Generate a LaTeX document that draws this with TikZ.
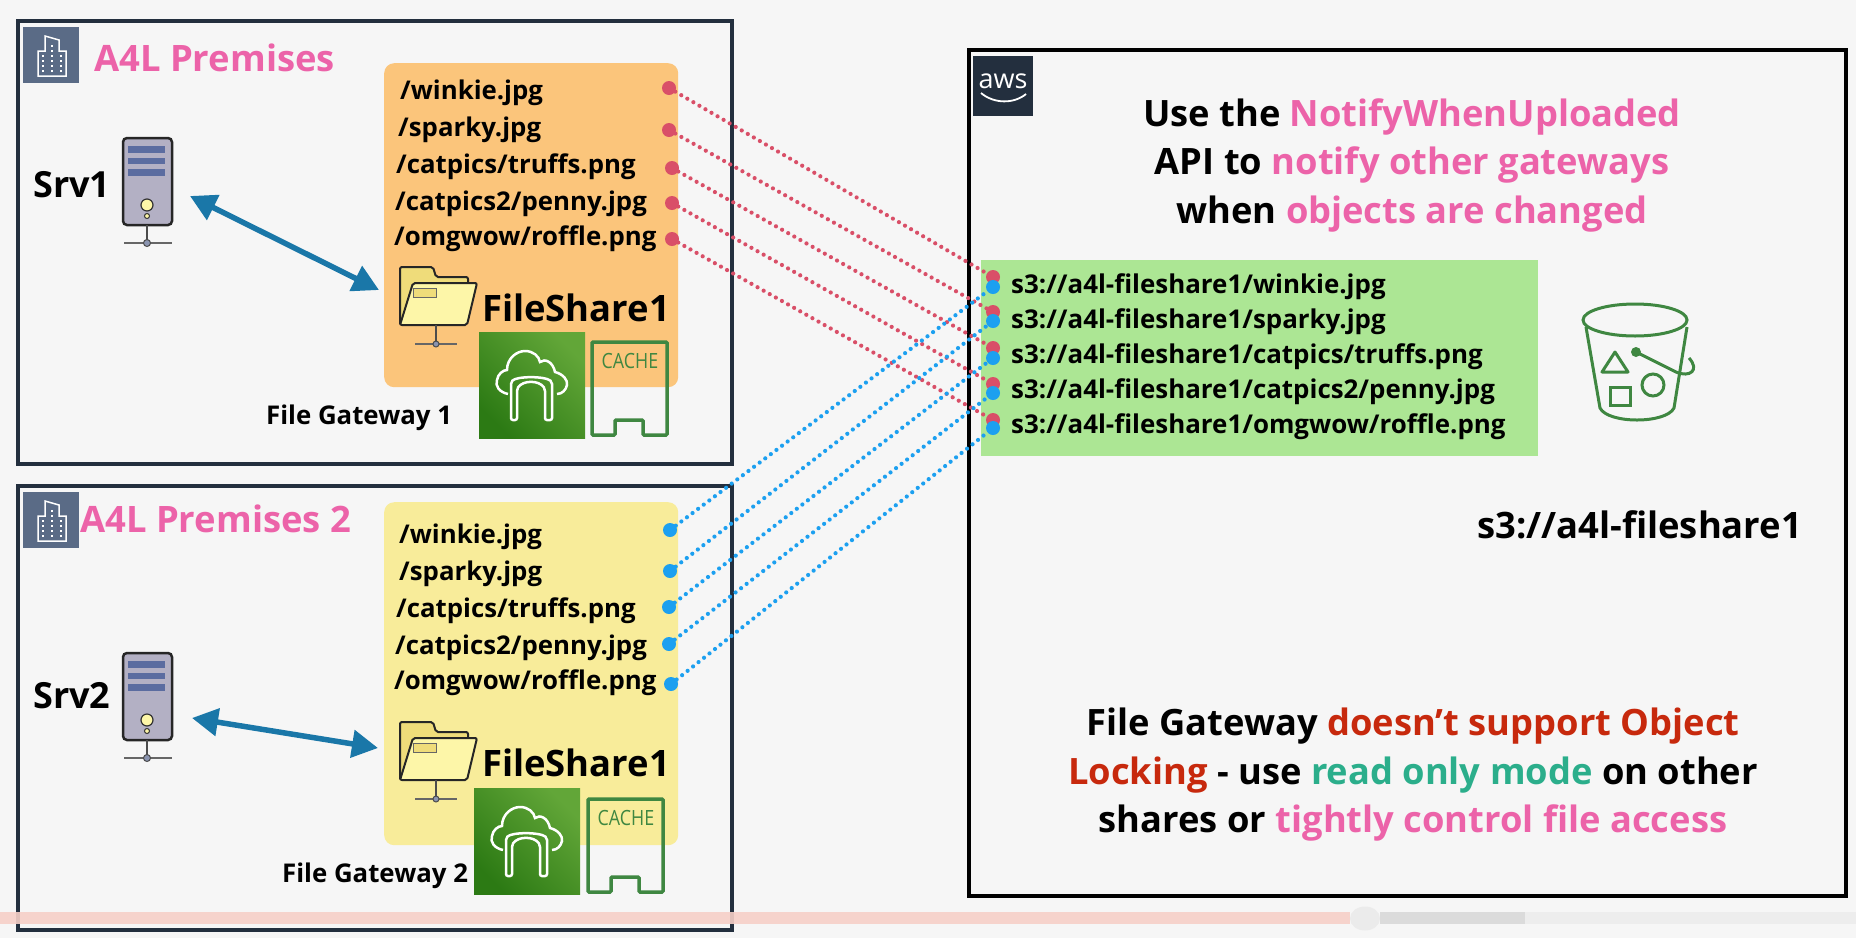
\documentclass[tikz,border=0pt]{standalone}
\usepackage{fontspec}
\setmainfont{Open Sans}
\usetikzlibrary{shapes,arrows.meta}
\definecolor{pagebg}{HTML}{F6F6F6}
\definecolor{frameink}{HTML}{232F3E}
\definecolor{hotpink}{HTML}{EC63A9}
\definecolor{lockred}{HTML}{C7290D}
\definecolor{modegreen}{HTML}{2BAE8B}
\definecolor{orangebox}{HTML}{FBC57B}
\definecolor{yellowbox}{HTML}{F8EC9A}
\definecolor{s3green}{HTML}{ACE694}
\definecolor{iconslate}{HTML}{5A6B86}
\definecolor{iconline}{HTML}{3F8741}
\definecolor{linkblue}{HTML}{1A77A8}
\definecolor{dotred}{HTML}{D94F68}
\definecolor{dotblue}{HTML}{1CA0F0}
\definecolor{gwlow}{HTML}{2C7A14}
\definecolor{gwhigh}{HTML}{62A638}
\definecolor{towerbody}{HTML}{B3B0C4}
\definecolor{towerslot}{HTML}{5B6CA0}
\definecolor{folderback}{HTML}{EFDC7A}
\definecolor{folderfront}{HTML}{FDF6A8}
\definecolor{barpink}{HTML}{F6D0C8}
\definecolor{knobgrey}{HTML}{8A94B0}
\tikzstyle{premises} = [rectangle, draw=frameink, line width=4pt, inner sep=0, anchor=north west]
\tikzstyle{s3frame} = [rectangle, draw=black, line width=4pt, inner sep=0, anchor=north west]
\tikzstyle{sharebox} = [rectangle, rounded corners=10pt, inner sep=0, anchor=north west]
\tikzstyle{badge} = [rectangle, fill=iconslate, inner sep=0, anchor=north west, minimum width=56pt, minimum height=56pt]
\tikzstyle{gateway} = [rectangle, inner sep=0, anchor=north west, minimum width=106pt, minimum height=106pt, shading=axis, bottom color=gwlow, top color=gwhigh, shading angle=-45]
\tikzstyle{heading} = [anchor=base west, inner sep=0, text=hotpink, font=\bfseries\fontsize{36.4}{36}\selectfont]
\tikzstyle{hostname} = [anchor=base west, inner sep=0, font=\bfseries\fontsize{36}{36}\selectfont]
\tikzstyle{sharename} = [anchor=base west, inner sep=0, font=\bfseries\fontsize{36.4}{36}\selectfont]
\tikzstyle{gwname} = [anchor=base west, inner sep=0, font=\bfseries\fontsize{25.8}{25}\selectfont]
\tikzstyle{filename} = [anchor=base west, inner sep=0, font=\bfseries\fontsize{25.8}{25}\selectfont]
\tikzstyle{objname} = [anchor=base west, inner sep=0, font=\bfseries\fontsize{25.9}{25}\selectfont]
\tikzstyle{notetext} = [align=center, inner sep=0, font=\bfseries\fontsize{36.3}{48.5}\selectfont]
\tikzstyle{reddot} = [circle, fill=dotred, minimum size=14pt, inner sep=0]
\tikzstyle{bluedot} = [circle, fill=dotblue, minimum size=14pt, inner sep=0]
\tikzstyle{redlink} = [draw=dotred, line width=4.2pt, line cap=round, dash pattern=on 0pt off 7pt]
\tikzstyle{bluelink} = [draw=dotblue, line width=4.2pt, line cap=round, dash pattern=on 0pt off 7pt]
\tikzstyle{arrow} = [draw=linkblue, line width=5.5pt, {Triangle[length=26pt,width=27pt]}-{Triangle[length=26pt,width=27pt]}]
\tikzset{
  serverpic/.pic={
    \draw [fill=towerbody, draw=black!85, line width=2.5pt, rounded corners=4pt] (0,0) rectangle (49,87);
    \fill [towerslot] (4.5,8) rectangle (42,15);
    \fill [towerslot] (4.5,20) rectangle (42,26);
    \fill [towerslot] (4.5,31) rectangle (42,38);
    \draw [fill=folderfront, draw=black!80, line width=1.2pt] (24,67) circle (6);
    \draw [fill=folderfront, draw=black!80, line width=1pt] (24,78) circle (2.5);
    \draw [black!70, line width=1.5pt] (24,87) -- (24,105);
    \draw [black!60, line width=1.2pt] (1,105) -- (49,105);
    \draw [fill=knobgrey, draw=black!70, line width=1pt] (24,105) circle (3.5);
  },
  folderpic/.pic={
    \draw [fill=folderback, draw=black!85, line width=2pt, rounded corners=2pt] (0,58) -- (0,0) -- (33,0) -- (36,10) -- (68,10) -- (68,24) -- cycle;
    \draw [fill=folderfront, draw=black!85, line width=2pt, rounded corners=2pt] (13,16) -- (77,16) -- (67,58) -- (0,58) -- cycle;
    \draw [fill=folderback, draw=black!60, line width=.8pt] (13,21) rectangle (36,30);
    \draw [black!70, line width=1.2pt] (36,58) -- (36,77);
    \draw [black!60, line width=1.2pt] (15,77) -- (57,77);
    \draw [fill=knobgrey, draw=black!70, line width=1pt] (36,77) circle (3);
  },
  cloudpic/.pic={
    \draw [white, line width=2.5pt, rounded corners=2pt] (32,88) -- (32,50) .. controls (38,44) and (66,44) .. (73,50) -- (73,88) -- (66,88) -- (66,57) .. controls (60,48) and (44,48) .. (38,57) -- (38,88) -- cycle;
    \draw [white, line width=2.5pt] (29,62) .. controls (20,60) and (16,54) .. (18,48) .. controls (19,42) and (24,38) .. (28,38) .. controls (28,26) and (38,19) .. (46,19) .. controls (54,19) and (60,24) .. (61,30) .. controls (66,26) and (74,30) .. (76,40) .. controls (84,42) and (89,48) .. (88,53) .. controls (87,58) and (83,62) .. (78,62);
  },
  cachepic/.pic={
    \draw [iconline, line width=3.5pt, rounded corners=1pt] (0,0) -- (75,0) -- (75,93) -- (51,93) -- (51,78) -- (23,78) -- (23,93) -- (0,93) -- cycle;
    \node (-lbl) [anchor=base, inner sep=0, text=iconline, xscale=.85, font=\fontsize{21}{21}\selectfont] at (38,26) {CACHE};
  },
  towerpic/.pic={
    \draw [white, line width=1.5pt] (15,49) -- (15,24) -- (22,24) -- (22,9) -- (36,13) -- (36,24) -- (43,24) -- (43,49) -- cycle;
    \draw [white, line width=1.5pt, dash pattern=on 2pt off 3pt] (20,28) -- (20,47);
    \draw [white, line width=1.5pt, dash pattern=on 2pt off 3pt] (29,18) -- (29,47);
    \draw [white, line width=1.5pt, dash pattern=on 2pt off 3pt] (38,28) -- (38,47);
  },
}
\begin{document}
\begin{tikzpicture}[x=1pt,y=-1pt]
    \fill [pagebg] (0,0) rectangle (1856,938);
    % left side, first site
    \node (site1) [premises, minimum width=714pt, minimum height=443pt] at (15.5,19) {};
    \node (bld1) [badge] at (23,27) {};
    \pic at (bld1.north west) {towerpic};
    \node (title1) [heading] at (94,71) {A4L Premises};
    \node (share1) [sharebox, fill=orangebox, minimum width=294pt, minimum height=324pt] at (384,63) {};
    \node (f1a) [filename] at (400,99) {/winkie.jpg};
    \node (f1b) [filename] at (398,136) {/sparky.jpg};
    \node (f1c) [filename] at (396,173) {/catpics/truffs.png};
    \node (f1d) [filename] at (395,210) {/catpics2/penny.jpg};
    \node (f1e) [filename] at (394,245) {/omgwow/roffle.png};
    \node (srv1) [hostname] at (33,197) {Srv1};
    \pic at (123,138) {serverpic};
    \pic at (400,267) {folderpic};
    \node (fs1) [sharename] at (482,321) {FileShare1};
    \node (gwy1) [gateway] at (479,332) {};
    \pic at (gwy1.north west) {cloudpic};
    \pic (cch1) at (592,342) {cachepic};
    \node (gwn1) [gwname] at (266,424) {File Gateway 1};
    % left side, second site
    \node (site2) [premises, minimum width=714pt, minimum height=444pt] at (15.5,484) {};
    \node (bld2) [badge] at (23,492) {};
    \pic at (bld2.north west) {towerpic};
    \node (title2) [heading] at (80,532) {A4L Premises 2};
    \node (share2) [sharebox, fill=yellowbox, minimum width=294pt, minimum height=343pt] at (384,502) {};
    \node (f2a) [filename] at (399,543) {/winkie.jpg};
    \node (f2b) [filename] at (399,580) {/sparky.jpg};
    \node (f2c) [filename] at (396,617) {/catpics/truffs.png};
    \node (f2d) [filename] at (395,654) {/catpics2/penny.jpg};
    \node (f2e) [filename] at (394,689) {/omgwow/roffle.png};
    \node (srv2) [hostname] at (33,708) {Srv2};
    \pic at (123,653) {serverpic};
    \pic at (400,722) {folderpic};
    \node (fs2) [sharename] at (482,776) {FileShare1};
    \node (gwy2) [gateway] at (474,788) {};
    \pic at (gwy2.north west) {cloudpic};
    \pic (cch2) at (588,799) {cachepic};
    \node (gwn2) [gwname] at (282,882) {File Gateway 2};
    % right side
    \node (cloud) [s3frame, minimum width=877pt, minimum height=846pt] at (966.5,48) {};
    \node (awsbadge) [rectangle, fill=frameink, inner sep=0, anchor=north west, minimum width=60pt, minimum height=60pt] at (973,56) {};
    \node (awsname) [anchor=base, inner sep=0, text=white, font=\fontsize{27}{27}\selectfont] at (1003,88) {aws};
    \coordinate (smileL) at (981,93);
    \coordinate (smileR) at (1026,94);
    \draw [white, line width=1.8pt] (smileL) .. controls (994,104) and (1014,104) .. (smileR);
    \node (note1) [notetext] at (1412,165) {Use the \textcolor{hotpink}{NotifyWhenUploaded}\\API to \textcolor{hotpink}{notify other gateways}\\when \textcolor{hotpink}{objects are changed}};
    \node (objbox) [rectangle, fill=s3green, inner sep=0, anchor=north west, minimum width=557pt, minimum height=196pt] at (981,260) {};
    \node (o1) [objname] at (1011,293) {s3://a4l-fileshare1/winkie.jpg};
    \node (o2) [objname] at (1011,328) {s3://a4l-fileshare1/sparky.jpg};
    \node (o3) [objname] at (1011,363) {s3://a4l-fileshare1/catpics/truffs.png};
    \node (o4) [objname] at (1011,398) {s3://a4l-fileshare1/catpics2/penny.jpg};
    \node (o5) [objname] at (1011,433) {s3://a4l-fileshare1/omgwow/roffle.png};
    % bucket
    \draw [iconline, line width=3pt] (1635,320) ellipse [x radius=52, y radius=16];
    \draw [iconline, line width=3pt] (1586,327) -- (1600,408) .. controls (1608,424) and (1666,424) .. (1674,408) -- (1687,327);
    \draw [iconline, line width=3pt, line join=round] (1615,352) -- (1628,372) -- (1602,372) -- cycle;
    \draw [iconline, line width=3pt] (1610,387) rectangle (1630,405);
    \draw [iconline, line width=3pt] (1653,385) circle (11);
    \fill [iconline] (1636,352) circle (5);
    \draw [iconline, line width=3pt] (1636,352) -- (1676,372) .. controls (1690,378) and (1700,370) .. (1689,358);
    \node (bktname) [sharename] at (1477,538) {s3://a4l-fileshare1};
    \node (note2) [notetext] at (1413,775) {File Gateway \textcolor{lockred}{doesn’t support Object}\\\textcolor{lockred}{Locking} - use \textcolor{modegreen}{read only mode} on other\\shares or \textcolor{hotpink}{tightly control file access}};
    % arrows between servers and shares
    \coordinate (srv1end) at (190,196);
    \coordinate (fs1end) at (379,290);
    \coordinate (srv2end) at (192,718);
    \coordinate (fs2end) at (378,748);
    \draw [arrow] (srv1end) -- (fs1end);
    \draw [arrow] (srv2end) -- (fs2end);
    % dots
    \node (r1a) [reddot] at (669,88) {};
    \node (r1b) [reddot] at (669,130) {};
    \node (r1c) [reddot] at (672,168) {};
    \node (r1d) [reddot] at (672,203) {};
    \node (r1e) [reddot] at (672,239) {};
    \node (b2a) [bluedot] at (670,530) {};
    \node (b2b) [bluedot] at (670,571) {};
    \node (b2c) [bluedot] at (669,607) {};
    \node (b2d) [bluedot] at (669,644) {};
    \node (b2e) [bluedot] at (671,684) {};
    \node (ra) [reddot] at (993,277) {};
    \node (rb) [reddot] at (993,312) {};
    \node (rc) [reddot] at (993,348) {};
    \node (rd) [reddot] at (993,384) {};
    \node (re) [reddot] at (993,420) {};
    \draw [redlink] (r1a) -- (ra);
    \draw [redlink] (r1b) -- (rb);
    \draw [redlink] (r1c) -- (rc);
    \draw [redlink] (r1d) -- (rd);
    \draw [redlink] (r1e) -- (re);
    \node (ba) [bluedot] at (993,287) {};
    \node (bb) [bluedot] at (993,321) {};
    \node (bc) [bluedot] at (993,358) {};
    \node (bd) [bluedot] at (993,393) {};
    \node (be) [bluedot] at (993,428) {};
    \draw [bluelink] (b2a) -- (ba);
    \draw [bluelink] (b2b) -- (bb);
    \draw [bluelink] (b2c) -- (bc);
    \draw [bluelink] (b2d) -- (bd);
    \draw [bluelink] (b2e) -- (be);
    % player bar
    \fill [barpink, fill opacity=.9] (0,912) rectangle (1350,924);
    \fill [black!7] (1380,912) rectangle (1856,924);
    \fill [black!14] (1380,912) rectangle (1525,924);
    \fill [black!8] (1365,918.5) ellipse [x radius=15, y radius=12];
\end{tikzpicture}
\end{document}
